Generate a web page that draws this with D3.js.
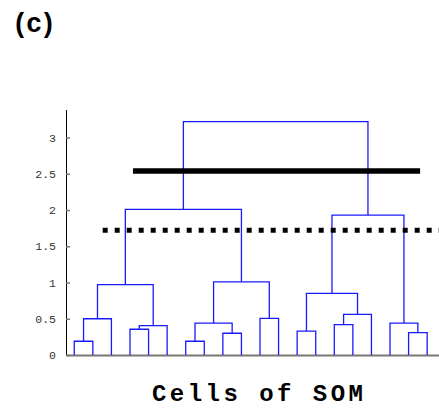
<!DOCTYPE html>
<html>
<head>
<meta charset="utf-8">
<script src="https://cdn.jsdelivr.net/npm/d3@7"></script>
<style>
  html, body { margin: 0; padding: 0; background: #fff; overflow: hidden; }
  svg { display: block; }
</style>
</head>
<body>
<svg id="chart" width="439" height="408"></svg>
<script>
// ---- data ----
// leaves are numbered 1..20 in their display order
const leafIds = d3.range(1, 21);
// linkage rows: [left node, right node, merge height]; new node ids start at 21
const mergeLeft  = [1, 21, 4, 23, 22, 7, 9, 26, 11, 28, 25, 13, 15, 33, 32, 19, 18, 35, 31];
const mergeRight = [2, 3, 5, 6, 24, 8, 10, 27, 12, 29, 30, 14, 16, 17, 34, 20, 36, 37, 38];
const mergeHeight = [0.19, 0.50, 0.355, 0.405, 0.97, 0.19, 0.30, 0.44, 0.505, 1.01, 2.01,
                     0.33, 0.42, 0.56, 0.85, 0.31, 0.44, 1.93, 3.22];
// cut-off lines: height, start/end in leaf units
const cutValues = [2.54, 1.72];
const cutFrom = [4.16, 2.53];
const cutTo = [19.62, 21.5];
const cutStyles = ["solid", "dotted"];
const yTicks = [0, 0.5, 1, 1.5, 2, 2.5, 3];
const yDomain = [0, 3.38];
const xDomain = [0.56, 21.1];
const panelLabel = "(c)";
const xTitle = "Cells of SOM";

// ---- scales ----
const svg = d3.select("#chart");
const x = d3.scaleLinear().domain(xDomain).range([66.1, 447.6]);
const y = d3.scaleLinear().domain(yDomain).range([355, 110]);

// ---- node positions ----
const pos = {};
const hgt = {};
leafIds.forEach(id => { pos[id] = id; hgt[id] = 0; });
const links = [];
mergeLeft.forEach((l, i) => {
  const id = leafIds.length + 1 + i;
  const r = mergeRight[i];
  const h = mergeHeight[i];
  pos[id] = (pos[l] + pos[r]) / 2;
  hgt[id] = h;
  links.push({ x1: pos[l], h1: hgt[l], x2: pos[r], h2: hgt[r], h: h });
});

// ---- axes ----
const yAxis = d3.axisLeft(y).tickValues(yTicks).tickSize(-4).tickPadding(10)
  .tickFormat(d => d3.format("")(d));
const gy = svg.append("g").attr("transform", "translate(66,0)").call(yAxis);
gy.select(".domain").attr("stroke", "#000").attr("stroke-width", 1)
  .attr("d", `M0.5,${y(yDomain[1])}V${y(0)}`);
gy.selectAll(".tick line").attr("stroke", "#777").attr("stroke-width", 1.5);
gy.selectAll(".tick text").attr("font-family", "Liberation Mono, DejaVu Sans Mono, monospace")
  .attr("font-size", 11.5).attr("fill", "#333");

const xAxis = d3.axisBottom(x).tickValues([]).tickSizeOuter(0);
const gx = svg.append("g").attr("transform", `translate(0,${y(0)})`).call(xAxis);
gx.select(".domain").attr("stroke", "#777").attr("stroke-width", 2);

// ---- dendrogram ----
const line = d3.line();
svg.append("g").selectAll("path").data(links).join("path")
  .attr("d", d => line([[x(d.x1), y(d.h1)], [x(d.x1), y(d.h)], [x(d.x2), y(d.h)], [x(d.x2), y(d.h2)]]))
  .attr("fill", "none")
  .attr("stroke", "#1a1aff")
  .attr("stroke-width", 1.3);

// ---- cut lines ----
svg.append("g").selectAll("line").data(cutValues).join("line")
  .attr("x1", (d, i) => x(cutFrom[i]))
  .attr("x2", (d, i) => x(cutTo[i]))
  .attr("y1", d => y(d))
  .attr("y2", d => y(d))
  .attr("stroke", "#000")
  .attr("stroke-width", (d, i) => cutStyles[i] === "solid" ? 5.5 : 5)
  .attr("stroke-dasharray", (d, i) => cutStyles[i] === "solid" ? null : "5,7");

// ---- text ----
svg.append("text").attr("x", 12).attr("y", 32)
  .attr("font-family", "Liberation Mono, Courier New, monospace")
  .attr("font-weight", "bold").attr("font-size", 27)
  .attr("textLength", 44).attr("lengthAdjust", "spacing")
  .attr("fill", "#000").text(panelLabel);

svg.append("text").attr("x", 152).attr("y", 400.5)
  .attr("font-family", "Liberation Mono, Courier New, monospace")
  .attr("font-weight", "bold").attr("font-size", 24)
  .attr("textLength", 211).attr("lengthAdjust", "spacing")
  .attr("fill", "#000").text(xTitle);
</script>
</body>
</html>
